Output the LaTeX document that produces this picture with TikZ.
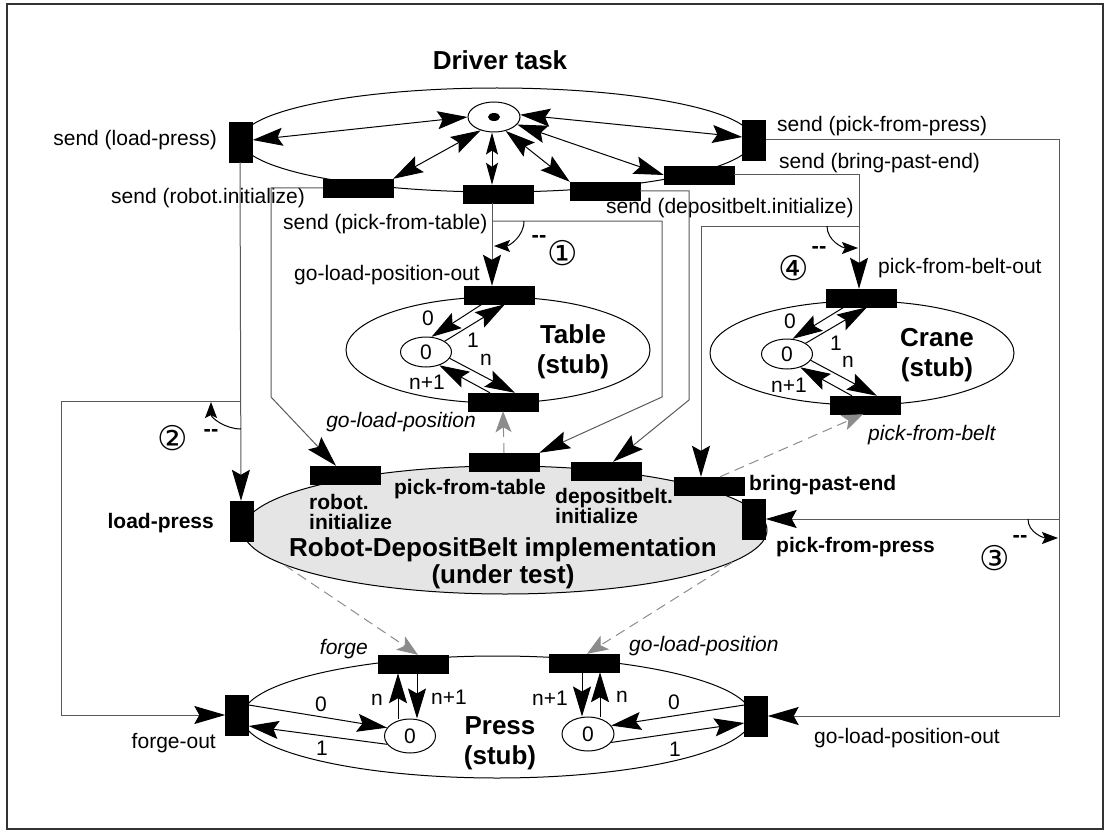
\documentclass[tikz,border=0pt]{standalone}
\usepackage{fontspec}
\setmainfont{Liberation Sans}
\newfontfamily\circfont{DejaVu Sans}
\usetikzlibrary{shapes.geometric, arrows.meta}

\tikzstyle{trans} = [rectangle, 
fill=black, 
draw=black, 
inner sep=0pt, 
minimum width=70pt, 
minimum height=18pt]
\tikzstyle{vtrans} = [trans, 
minimum width=23pt, 
minimum height=40pt]
\tikzstyle{place} = [ellipse, 
draw=black, 
line width=1pt, 
inner sep=0pt, 
minimum width=52pt, 
minimum height=30pt, 
font=\fontsize{21}{24}\selectfont]
\tikzstyle{net} = [ellipse, draw=black, line width=1pt, inner sep=0pt]
\tikzstyle{lbl} = [inner sep=0pt, font=\fontsize{21}{24}\selectfont]
\tikzstyle{blbl} = [inner sep=0pt, align=left, font=\fontsize{21}{20}\selectfont\bfseries]
\tikzstyle{ilbl} = [inner sep=0pt, font=\fontsize{21}{24}\selectfont\itshape]
\tikzstyle{heading} = [inner sep=0pt, align=center, font=\fontsize{26}{30}\selectfont\bfseries]
\tikzstyle{num} = [inner sep=0pt, font=\circfont\fontsize{34}{34}\selectfont]
\tikzstyle{choice} = [inner sep=0pt, font=\fontsize{22}{24}\selectfont\bfseries]
\tikzstyle{flow} = [line width=1pt, -{Stealth[length=30pt, width=18pt, inset=5pt]}]
\tikzstyle{biflow} = [line width=1pt, 
{Stealth[length=30pt, width=18pt, inset=5pt]}-{Stealth[length=30pt, width=18pt, inset=5pt]}]
\tikzstyle{shortbiflow} = [line width=1pt, 
{Stealth[length=22pt, width=12pt, inset=4pt]}-{Stealth[length=22pt, width=12pt, inset=4pt]}]
\tikzstyle{wire} = [line width=1pt, draw=black!65, 
-{Stealth[length=31pt, width=18pt, inset=5pt, black]}]
\tikzstyle{link} = [line width=1pt, draw=black!45, dash pattern=on 10pt off 6pt, 
-{Stealth[length=21pt, width=16pt, inset=5pt, black!45]}]
\tikzstyle{note} = [line width=1pt, -{Stealth[length=16pt, width=12pt, inset=3pt]}]

\begin{document}
\begin{tikzpicture}[x=1pt, y=-1pt]
\useasboundingbox (0,0) rectangle (1109,832);
\draw[black!80, line width=1.5pt] (7,4) rectangle (1103,829);

% driver task
\node (drvTitle) [heading] at (500,60) {Driver task};
\node (drvNet) [net, minimum width=512pt, minimum height=104pt] at (497,140) {};
\node (drv) [place] at (494,117) {};
\fill (drv.center) ellipse (6pt and 4pt);
\node (tLp) [vtrans] at (241,142) {};
\node (tPp) [vtrans] at (754,140) {};
\node (tRi) [trans] at (358,188) {};
\node (tPt) [trans] at (498,194) {};
\node (tDi) [trans] at (605,191) {};
\node (tBp) [trans] at (699,175) {};

\node [lbl, anchor=east] at (217,140) {send (load-press)};
\node [lbl, anchor=west] at (777,126) {send (pick-from-press)};
\node [lbl, anchor=west] at (111,198) {send (robot.initialize)};
\node [lbl, anchor=west] at (283,224) {send (pick-from-table)};
\node [lbl, anchor=west] at (606,208) {send (depositbelt.initialize)};
\node [lbl, anchor=west] at (779,163) {send (bring-past-end)};

\draw [biflow] (drv.west) -- ([yshift=2pt]tLp.east);
\draw [biflow] (drv.-135) -- (tRi.north east);
\draw [shortbiflow] ([xshift=-2pt]drv.south) -- ([xshift=-6pt]tPt.north);
\draw [biflow] (drv.-50) -- (tDi.north west);
\draw [biflow] (drv.-18) -- (tBp.west);
\draw [biflow] (drv.5) -- ([yshift=3pt]tPp.west);

% table stub
\node (tableNet) [net, minimum width=304pt, minimum height=106pt] at (498,350) {};
\node (tGlpo) [trans] at (499,295) {};
\node (tGlp) [trans] at (503,402) {};
\node (pTable) [place, minimum width=51pt] at (426,352) {0};
\node [heading] at (573,352) {Table\\(stub)};
\node [lbl, anchor=east] at (480,275) {go-load-position-out};
\node [ilbl] at (401,422) {go-load-position};

\draw [flow] ([xshift=-17pt]tGlpo.south) -- (pTable.70);
\draw [flow] (pTable.30) -- ([xshift=6pt]tGlpo.south);
\draw [flow] (pTable.-15) -- ([xshift=12pt]tGlp.north);
\draw [flow] ([xshift=-13pt]tGlp.north) -- (pTable.-45);
\node [lbl] at (428,318) {0};
\node [lbl] at (473,340) {1};
\node [lbl] at (486,360) {n};
\node [lbl] at (427,382) {n+1};

% crane stub
\node (craneNet) [net, minimum width=304pt, minimum height=104pt] at (862,353) {};
\node (tPfbo) [trans] at (861,298) {};
\node (tPfb) [trans] at (865,405) {};
\node (pCrane) [place, minimum width=51pt] at (787,354) {0};
\node [heading] at (937,355) {Crane\\(stub)};
\node [lbl, anchor=west] at (878,268) {pick-from-belt-out};
\node [ilbl, anchor=west] at (868,435) {pick-from-belt};

\draw [flow] ([xshift=-17pt]tPfbo.south) -- (pCrane.70);
\draw [flow] (pCrane.30) -- ([xshift=6pt]tPfbo.south);
\draw [flow] (pCrane.-15) -- ([xshift=12pt]tPfb.north);
\draw [flow] ([xshift=-13pt]tPfb.north) -- (pCrane.-45);
\node [lbl] at (790,321) {0};
\node [lbl] at (836,343) {1};
\node [lbl] at (848,362) {n};
\node [lbl] at (789,385) {n+1};

% implementation under test
\node (robot) [net, fill=black!10, minimum width=524pt, minimum height=128pt] at (505,530) {};
\node (tLoad) [vtrans] at (242,521) {};
\node (tRobInit) [trans] at (345,475) {};
\node (tRobPick) [trans] at (504,462) {};
\node (tRobDep) [trans] at (606,471) {};
\node (tRobBring) [trans] at (709,486) {};
\node (tRobPress) [vtrans] at (754,519) {};

\node [blbl, anchor=east] at (214,523) {load-press};
\node [blbl, anchor=west] at (309,512) {robot.\\initialize};
\node [blbl] at (470,489) {pick-from-table};
\node [blbl, anchor=west] at (555,506) {depositbelt.\\initialize};
\node [blbl, anchor=west] at (749,485) {bring-past-end};
\node [blbl, anchor=west] at (776,547) {pick-from-press};
\node [heading, font=\fontsize{26}{27}\selectfont\bfseries] at (503,563) {Robot-DepositBelt implementation\\(under test)};

% press stub
\node (pressNet) [net, minimum width=510pt, minimum height=122pt] at (497,717) {};
\node (tForgeOut) [vtrans] at (237,715) {};
\node (tForge) [trans] at (413,664) {};
\node (tGlp2) [trans] at (584,663) {};
\node (tGlpo2) [vtrans] at (756,716) {};
\node (pPressL) [place, minimum width=51pt, minimum height=34pt] at (410,736) {0};
\node (pPressR) [place, minimum height=34pt] at (588,734) {0};
\node [heading] at (500,743) {Press\\(stub)};
\node [lbl, anchor=east] at (216,743) {forge-out};
\node [ilbl, anchor=east] at (368,649) {forge};
\node [ilbl, anchor=west] at (629,646) {go-load-position};
\node [lbl, anchor=west] at (814,738) {go-load-position-out};

\draw [flow] ([yshift=10pt]tForgeOut.east) -- (pPressL.160);
\draw [flow] (pPressL.200) -- ([yshift=-11pt]tForgeOut.east);
\draw [flow] ([xshift=-12pt]pPressL.north) -- ([xshift=-15pt]tForge.south);
\draw [flow] ([xshift=4pt]tForge.south) -- ([xshift=7pt]pPressL.north);
\draw [flow] ([xshift=-2pt]tGlp2.south) -- ([xshift=-6pt]pPressR.north);
\draw [flow] ([xshift=12pt]pPressR.north) -- ([xshift=16pt]tGlp2.south);
\draw [flow] ([yshift=11pt]tGlpo2.west) -- (pPressR.20);
\draw [flow] (pPressR.-20) -- ([yshift=-7pt]tGlpo2.west);
\node [lbl] at (321,704) {0};
\node [lbl] at (322,748) {1};
\node [lbl] at (377,700) {n};
\node [lbl] at (449,697) {n+1};
\node [lbl] at (550,698) {n+1};
\node [lbl] at (622,697) {n};
\node [lbl] at (674,702) {0};
\node [lbl] at (675,749) {1};

% refinement links
\draw [link] (tRobPick.north) -- (tGlp.south);
\draw [link] ([xshift=11pt]tRobBring.north) -- ([xshift=-2pt]tPfb.south);
\draw [link] (robot.-171) -- ([xshift=5pt]tForge.north);
\draw [link] (robot.-8) -- ([xshift=3pt]tGlp2.north);

% wiring between the driver and the rest
\coordinate (jLoad) at (241,401);
\coordinate (cLeft) at (61,401);
\coordinate (cRi) at (271,397);
\coordinate (jPt) at (492,221);
\coordinate (cPt) at (662,397);
\coordinate (cDi) at (689,400);
\coordinate (jBp) at (859,226);
\coordinate (jPp) at (1059,519);
\coordinate (cPp) at (1059,716);

\draw [wire] ([xshift=-1pt]tLp.south) -- ([xshift=-1pt]tLoad.north);
\draw [wire] (jLoad) -- (cLeft) |- (tForgeOut.west);
\draw [wire] (tRi.west) -| (cRi) -- ([xshift=-9pt]tRobInit.north);
\draw [wire] ([xshift=-6pt]tPt.south) -- ([xshift=-7pt]tGlpo.north);
\draw [wire] (jPt) -| (cPt) -- (tRobPick.north east);
\draw [wire] (tDi.east) -| (cDi) -- ([xshift=7pt]tRobDep.north);
\draw [wire] (tBp.east) -| ([xshift=-2pt]tPfbo.north);
\draw [wire] (jBp) -| ([xshift=-8pt]tRobBring.north);
\draw [wire] (tPp.east) -| (cPp) -- (tGlpo2.east);
\draw [wire] (jPp) -- (tRobPress.east);

% choice marks
\coordinate (n1a) at (524,221);
\coordinate (n1b) at (494,246);
\coordinate (n2a) at (241,429);
\coordinate (n2b) at (211,402);
\coordinate (n3a) at (1028,519);
\coordinate (n3b) at (1058,538);
\coordinate (n4a) at (827,226);
\coordinate (n4b) at (858,248);
\draw [note] (n1a) to[out=-90, in=0] (n1b);
\draw [note] (n2a) to[out=180, in=-90] (n2b);
\draw [note] (n3a) to[out=-90, in=180] (n3b);
\draw [note] (n4a) to[out=-90, in=180] (n4b);
\node [choice] at (539,239) {-{}-};
\node [choice] at (211,433) {-{}-};
\node [choice] at (1020,539) {-{}-};
\node [choice] at (819,250) {-{}-};
\node [num] at (563,253) {①};
\node [num] at (173,438) {②};
\node [num] at (995,558) {③};
\node [num] at (794,268) {④};

\end{tikzpicture}
\end{document}
